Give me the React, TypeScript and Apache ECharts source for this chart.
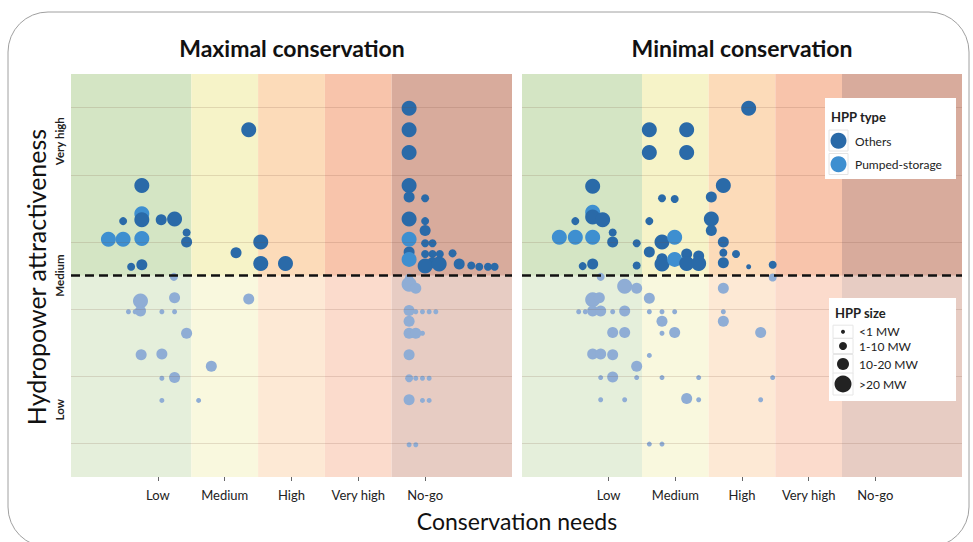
import React, { useEffect, useRef } from "react";
import * as echarts from "echarts";

// ---------- data ----------
const panelTitles = ["Maximal conservation", "Minimal conservation"];
const xTickLabels = ["Low", "Medium", "High", "Very high", "No-go"];
const xTickValues = [1, 2, 3, 4, 5];
const yTickValues = [1, 2, 3, 4, 5];
const yLabelValues = [1, 3, 5];
const yTickLabels = ["Low", "Medium", "Very high"];
const bandEdges = [-0.3, 1.5, 2.5, 3.5, 4.5, 6.3];
const gridLineValues = [0.5, 1.5, 2.5, 3.5, 4.5, 5.5];
const thresholdValue = 3;
const typeNames = ["Others", "Pumped-storage"];
const sizeNames = ["<1 MW", "1-10 MW", "10-20 MW", ">20 MW"];

// [conservation need, attractiveness, size class (1-4), type (0 others, 1 pumped)]
const maxUpper = [
  [0.76, 4.34, 4, 0], [0.76, 3.92, 4, 1], [0.76, 3.83, 4, 0], [0.48, 3.81, 2, 0],
  [1.05, 3.83, 3, 0], [1.25, 3.84, 4, 0], [0.26, 3.54, 4, 1], [0.48, 3.54, 4, 1],
  [0.76, 3.55, 4, 1], [1.43, 3.64, 2, 0], [1.43, 3.5, 3, 0], [0.6, 3.13, 2, 0],
  [0.76, 3.16, 3, 0], [2.36, 5.17, 4, 0], [2.17, 3.34, 3, 0], [2.54, 3.5, 4, 0],
  [2.54, 3.18, 4, 0], [2.91, 3.18, 4, 0],
  [4.76, 5.49, 4, 0], [4.76, 5.17, 4, 0], [4.76, 4.83, 4, 0], [4.76, 4.34, 4, 0],
  [4.76, 4.17, 3, 0], [5.0, 4.15, 2, 0], [4.76, 3.84, 4, 0], [5.0, 3.81, 2, 0],
  [5.0, 3.67, 3, 0], [4.76, 3.35, 3, 0], [4.76, 3.54, 4, 1], [5.0, 3.48, 2, 0],
  [5.11, 3.48, 2, 0], [5.0, 3.32, 2, 0], [5.11, 3.32, 2, 0], [5.22, 3.32, 2, 0],
  [5.41, 3.33, 2, 0], [4.76, 3.24, 4, 1], [5.11, 3.19, 3, 0], [5.0, 3.14, 4, 0],
  [5.21, 3.17, 4, 0], [5.51, 3.17, 3, 0], [5.69, 3.15, 2, 0], [5.81, 3.13, 2, 0],
  [5.94, 3.13, 2, 0], [6.04, 3.13, 2, 0],
];
const maxLower = [
  [1.24, 2.98, 2], [4.76, 2.97, 2], [0.74, 2.62, 4], [0.74, 2.47, 3],
  [0.56, 2.46, 1], [0.66, 2.46, 1], [1.06, 2.46, 1], [1.25, 2.46, 1],
  [1.25, 2.67, 3], [2.36, 2.65, 3], [1.43, 2.14, 3], [0.75, 1.82, 3],
  [1.06, 1.83, 3], [1.8, 1.65, 3], [1.06, 1.47, 1], [1.25, 1.48, 3],
  [1.06, 1.14, 1], [1.61, 1.14, 1],
  [4.76, 2.87, 4], [4.86, 2.81, 3], [4.76, 2.48, 3], [4.86, 2.46, 1],
  [4.96, 2.46, 1], [5.06, 2.46, 1], [5.16, 2.46, 1], [4.76, 2.32, 3],
  [4.76, 2.14, 3], [4.86, 2.14, 3], [4.96, 2.14, 1], [4.76, 1.82, 3],
  [4.76, 1.47, 2], [4.86, 1.47, 1], [4.96, 1.47, 1], [5.06, 1.47, 1],
  [4.76, 1.15, 3], [4.96, 1.14, 1], [5.06, 1.14, 1], [4.76, 0.48, 1],
  [4.86, 0.48, 1],
];
const minUpper = [
  [3.1, 5.49, 4, 0], [1.61, 5.17, 4, 0], [2.17, 5.17, 4, 0], [1.61, 4.83, 4, 0],
  [2.17, 4.83, 4, 0], [0.76, 4.33, 4, 0], [2.72, 4.34, 4, 0], [1.8, 4.15, 2, 0],
  [1.99, 4.14, 2, 0], [2.54, 4.17, 3, 0], [0.5, 3.81, 2, 0], [0.76, 3.94, 4, 1],
  [0.76, 3.87, 4, 0], [0.91, 3.83, 4, 0], [1.61, 3.81, 2, 0], [2.54, 3.84, 4, 0],
  [2.54, 3.67, 3, 0], [0.26, 3.57, 4, 1], [0.5, 3.57, 4, 1], [0.76, 3.57, 4, 1],
  [1.06, 3.64, 2, 0], [1.06, 3.5, 3, 0], [1.42, 3.48, 2, 0], [1.8, 3.5, 4, 0],
  [1.99, 3.57, 4, 1], [2.72, 3.5, 3, 0], [1.61, 3.35, 3, 0], [2.17, 3.32, 3, 0],
  [2.35, 3.29, 3, 0], [2.72, 3.34, 2, 0], [2.91, 3.32, 2, 0], [0.61, 3.14, 2, 0],
  [0.76, 3.17, 3, 0], [1.42, 3.15, 2, 0], [1.8, 3.25, 3, 0], [1.8, 3.17, 4, 0],
  [1.99, 3.24, 4, 1], [2.17, 3.18, 4, 0], [2.35, 3.18, 4, 0], [2.72, 3.19, 3, 0],
  [3.1, 3.13, 1, 0], [3.46, 3.16, 2, 0],
];
const minLower = [
  [0.88, 2.98, 2], [3.46, 2.97, 2], [1.24, 2.84, 4], [1.42, 2.81, 3],
  [0.76, 2.64, 4], [0.86, 2.67, 3], [0.76, 2.47, 3], [0.88, 2.47, 3],
  [0.55, 2.46, 1], [0.65, 2.46, 1], [1.06, 2.46, 1], [1.24, 2.47, 3],
  [1.61, 2.66, 3], [1.61, 2.46, 1], [1.8, 2.46, 1], [1.99, 2.46, 1],
  [1.8, 2.32, 3], [2.72, 2.81, 3], [2.72, 2.46, 1], [2.72, 2.32, 3],
  [1.06, 2.15, 3], [1.24, 2.15, 3], [1.8, 2.14, 1], [1.99, 2.15, 3],
  [3.28, 2.15, 3], [0.76, 1.83, 3], [0.88, 1.83, 3], [1.06, 1.82, 3],
  [1.61, 1.81, 1], [1.42, 1.65, 3], [0.88, 1.48, 1], [1.06, 1.49, 3],
  [1.42, 1.48, 1], [1.8, 1.48, 1], [2.35, 1.48, 1], [3.46, 1.48, 1],
  [0.88, 1.15, 1], [1.24, 1.15, 1], [2.17, 1.17, 3], [2.35, 1.15, 1],
  [3.28, 1.15, 1], [1.61, 0.49, 1], [1.8, 0.49, 1],
];

// ---------- styles ----------
const FONT = "Lato, 'Open Sans', sans-serif";
const SIZE_PX = [0, 5, 8, 11, 15];
const TYPE_COLORS = ["#2a6aa8", "#3e8fd0"];
const FADED = "#8fadd5";
const BAND_COLORS = ["#d4e5c4", "#f6f3c8", "#fcdbb9", "#f8c4ab", "#d8ab9c"];
const LEGEND_SIZES = [4, 8, 12, 17];

function panelSeries(i: number, upper: number[][], lower: number[][]) {
  const ax = { xAxisIndex: i, yAxisIndex: i };
  const bands = BAND_COLORS.map((c, k) => [
    { coord: [bandEdges[k], 0], itemStyle: { color: c } },
    { coord: [bandEdges[k + 1], 6] },
  ]);
  return [
    {
      type: "scatter", ...ax, data: [], silent: true, z: 0,
      markArea: { silent: true, data: bands, label: { show: false } },
    },
    {
      type: "scatter", ...ax, data: [], silent: true, z: 1,
      markLine: {
        silent: true, symbol: ["none", "none"], label: { show: false },
        lineStyle: { color: "rgba(110,70,50,0.16)", type: "solid", width: 1 },
        data: gridLineValues.map((v) => ({ yAxis: v })),
      },
    },
    {
      type: "scatter", ...ax, data: [], silent: true, z: 2,
      markArea: {
        silent: true, label: { show: false },
        itemStyle: { color: "rgba(255,255,255,0.4)" },
        data: [[{ coord: [bandEdges[0], 0] }, { coord: [bandEdges[5], thresholdValue] }]],
      },
    },
    {
      type: "scatter", ...ax, z: 3, data: lower,
      symbolSize: (v: number[]) => SIZE_PX[v[2]],
      itemStyle: { color: FADED, opacity: 1 },
    },
    {
      type: "scatter", ...ax, z: 4, data: upper,
      symbolSize: (v: number[]) => SIZE_PX[v[2]],
      itemStyle: { color: (p: any) => TYPE_COLORS[p.value[3]], opacity: 1 },
    },
    {
      type: "scatter", ...ax, data: [], silent: true, z: 5,
      markLine: {
        silent: true, symbol: ["none", "none"], label: { show: false },
        lineStyle: { color: "#111", type: [9, 5], width: 2.5 },
        data: [{ yAxis: thresholdValue }],
      },
    },
  ];
}

function buildOption() {
  const grids = [
    { left: 71, top: 74, width: 441, height: 403 },
    { left: 522, top: 74, width: 440, height: 403 },
  ];
  const xAxes = grids.map((_, i) => ({
    type: "value", gridIndex: i, min: bandEdges[0], max: bandEdges[5],
    axisLine: { show: false }, splitLine: { show: false },
    axisTick: { show: true, customValues: xTickValues, length: 4, lineStyle: { color: "#666" } },
    axisLabel: {
      customValues: xTickValues, margin: 11, fontSize: 13, color: "#222", fontFamily: FONT,
      formatter: (v: number) => xTickLabels[Math.round(v) - 1],
    },
  }));
  const yAxes = grids.map((_, i) => ({
    type: "value", gridIndex: i, min: 0, max: 6,
    axisLine: { show: false }, splitLine: { show: false },
    axisTick: { show: true, customValues: yTickValues, length: 4, lineStyle: { color: "#444", width: 1.5 } },
    axisLabel: {
      show: i === 0, customValues: yLabelValues, rotate: 90, margin: 6,
      fontSize: 11.5, color: "#222", fontFamily: FONT, fontWeight: "bold",
      formatter: (v: number) => yTickLabels[yLabelValues.indexOf(Math.round(v))],
    },
  }));

  const legendText = { fontFamily: FONT, fill: "#222" };
  const graphic: any[] = [
    {
      type: "rect", silent: true, z: 100,
      shape: { x: 8, y: 12, width: 961, height: 535, r: 40 },
      style: { fill: "none", stroke: "#a0a0a0", lineWidth: 1 },
    },
    ...panelTitles.map((t, i) => ({
      type: "text", x: i === 0 ? 292 : 742, y: 48, z: 100,
      style: { text: t, textAlign: "center", textVerticalAlign: "middle", fontSize: 23, fontWeight: "bold", fontFamily: FONT, fill: "#111" },
    })),
    {
      type: "text", x: 517, y: 521, z: 100,
      style: { text: "Conservation needs", textAlign: "center", textVerticalAlign: "middle", fontSize: 23, fontFamily: FONT, fill: "#111" },
    },
    {
      type: "text", x: 36, y: 277, rotation: Math.PI / 2, z: 100,
      style: { text: "Hydropower attractiveness", textAlign: "center", textVerticalAlign: "middle", fontSize: 25, fontFamily: FONT, fill: "#111" },
    },
    // HPP type legend
    { type: "rect", z: 100, shape: { x: 825, y: 98, width: 131, height: 81 }, style: { fill: "#fff" } },
    { type: "text", z: 101, x: 831, y: 117, style: { ...legendText, text: "HPP type", fontSize: 13, fontWeight: "bold", textVerticalAlign: "middle" } },
    ...typeNames.flatMap((n, k) => [
      { type: "rect", z: 101, shape: { x: 829, y: 130 + k * 23.5, width: 19, height: 21 }, style: { fill: "#fff", stroke: "#e4e4e4", lineWidth: 1 } },
      { type: "circle", z: 102, shape: { cx: 838.5, cy: 140.7 + k * 23.5, r: 8 }, style: { fill: TYPE_COLORS[k] } },
      { type: "text", z: 101, x: 855, y: 141 + k * 23.5, style: { ...legendText, text: n, fontSize: 12, textVerticalAlign: "middle" } },
    ]),
    // HPP size legend
    { type: "rect", z: 100, shape: { x: 829, y: 298, width: 127, height: 103 }, style: { fill: "#fff" } },
    { type: "text", z: 101, x: 835, y: 313, style: { ...legendText, text: "HPP size", fontSize: 13, fontWeight: "bold", textVerticalAlign: "middle" } },
    ...sizeNames.flatMap((n, k) => {
      const cy = [331.7, 346, 364, 384][k];
      const h = [13, 15, 19, 22][k];
      return [
        { type: "rect", z: 101, shape: { x: 833, y: cy - h / 2, width: 20, height: h }, style: { fill: "#fff", stroke: "#e6e6e6", lineWidth: 1 } },
        { type: "circle", z: 102, shape: { cx: 843, cy, r: LEGEND_SIZES[k] / 2 }, style: { fill: "#222" } },
        { type: "text", z: 101, x: 859, y: cy, style: { ...legendText, text: n, fontSize: 12, textVerticalAlign: "middle" } },
      ];
    }),
  ];

  return {
    animation: false,
    backgroundColor: "#fff",
    grid: grids,
    xAxis: xAxes,
    yAxis: yAxes,
    series: [...panelSeries(0, maxUpper, maxLower), ...panelSeries(1, minUpper, minLower)],
    graphic,
  };
}

export default function App() {
  const ref = useRef<HTMLDivElement>(null);
  useEffect(() => {
    const chart = echarts.init(ref.current as HTMLDivElement, null, { renderer: "svg" });
    chart.setOption(buildOption() as any);
    return () => chart.dispose();
  }, []);
  return (
    <div
      ref={ref}
      style={{ position: "fixed", left: 0, top: 0, width: 973, height: 542, background: "#fff" }}
    />
  );
}
